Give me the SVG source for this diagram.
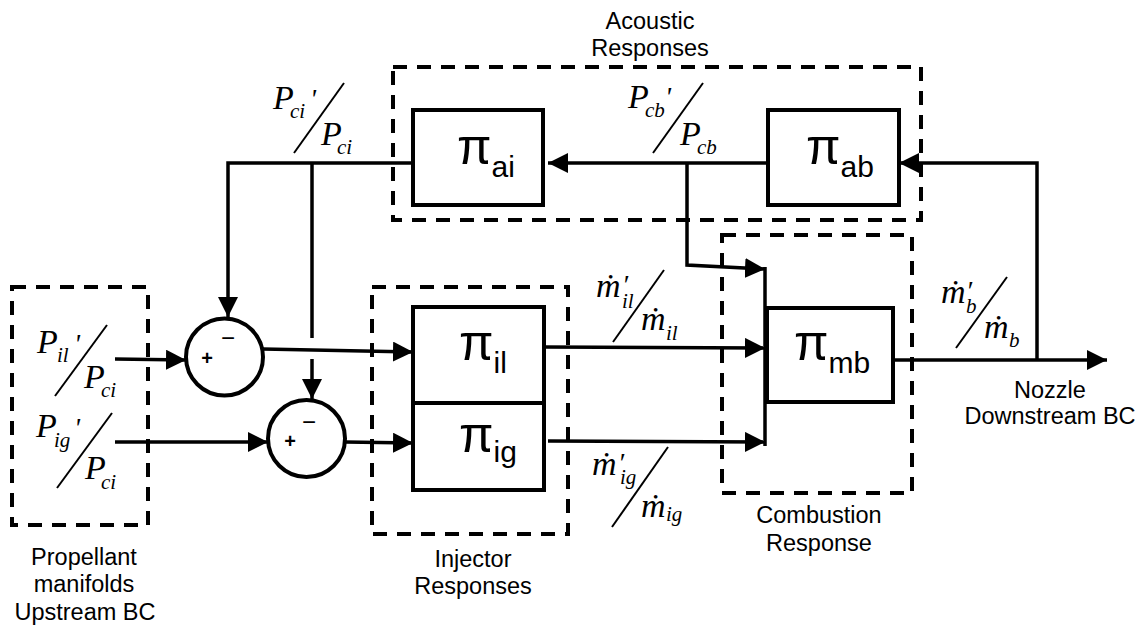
<svg xmlns="http://www.w3.org/2000/svg" width="1139" height="627" viewBox="0 0 1139 627">
<defs>
<style>
.dash{fill:none;stroke:#000;stroke-width:4;stroke-dasharray:14 10}
.blk{fill:#fff;stroke:#000;stroke-width:4}
.ln{fill:none;stroke:#000;stroke-width:3.5}
.sl{stroke:#000;stroke-width:2}
.lbl{font-family:"Liberation Sans",Arial,sans-serif;font-size:23.5px;fill:#000;text-anchor:middle}
.pi{font-family:"Liberation Sans",Arial,sans-serif;font-size:50px;fill:#000}
.sub{font-size:30px}
.m{font-family:"Liberation Serif","DejaVu Serif",serif;font-style:italic;fill:#000}
.big{font-size:34px}
.sm{font-size:21px}
.pr{font-size:28px}
.sg{font-family:"Liberation Sans",Arial,sans-serif;fill:#000;text-anchor:middle}
</style>
<marker id="ah" viewBox="0 0 20 20" refX="20" refY="10" markerWidth="20" markerHeight="20" markerUnits="userSpaceOnUse" orient="auto">
<path d="M0,0 L20,10 L0,20 z" fill="#000"/>
</marker>
</defs>
<rect width="1139" height="627" fill="#fff"/>

<g id="connectors">
<path class="ln" d="M413,163 H228 V317" marker-end="url(#ah)"/>
<path class="ln" d="M312,163 V338"/>
<path class="ln" d="M312,359 V399" marker-end="url(#ah)"/>
<path class="ln" d="M115,359 L186,360" marker-end="url(#ah)"/>
<path class="ln" d="M115,442 H268" marker-end="url(#ah)"/>
<path class="ln" d="M263,349 L413,352" marker-end="url(#ah)"/>
<path class="ln" d="M345,442 L413,443" marker-end="url(#ah)"/>
<path class="ln" d="M544,347 L765,348" marker-end="url(#ah)"/>
<path class="ln" d="M548,441 L765,442" marker-end="url(#ah)"/>
<path class="ln" d="M687,163 V265 L765,269" marker-end="url(#ah)"/>
<path class="ln" d="M893,360 H1107" marker-end="url(#ah)"/>
<path class="ln" d="M1037,360 V163 H899" marker-end="url(#ah)"/>
<path class="ln" d="M768,163 H548" marker-end="url(#ah)"/>
<path class="ln" d="M765,267 V446"/>
</g>

<g id="upstream">
<rect class="dash" x="12" y="287" width="136" height="238"/>
<text class="m"><tspan class="big" x="37" y="353">P</tspan><tspan class="sm" x="57" y="362">il</tspan><tspan class="pr" x="74" y="353">'</tspan></text>
<line class="sl" x1="107" y1="325" x2="55" y2="396"/>
<text class="m"><tspan class="big" x="84" y="388">P</tspan><tspan class="sm" x="101" y="397">ci</tspan></text>
<text class="m"><tspan class="big" x="36" y="437">P</tspan><tspan class="sm" x="54" y="447">ig</tspan><tspan class="pr" x="74" y="437">'</tspan></text>
<line class="sl" x1="112" y1="413" x2="57" y2="488"/>
<text class="m"><tspan class="big" x="85" y="479">P</tspan><tspan class="sm" x="101" y="489">ci</tspan></text>
<text class="lbl" x="84" y="565">Propellant</text>
<text class="lbl" x="84" y="592">manifolds</text>
<text class="lbl" x="85" y="620">Upstream BC</text>
</g>

<g id="sum1">
<circle cx="224.5" cy="357" r="38.5" fill="#fff" stroke="#000" stroke-width="4"/>
<text class="sg" font-size="20" font-weight="bold" x="207" y="365">+</text>
<text class="sg" font-size="24" x="228" y="346">−</text>
</g>

<g id="sum2">
<circle cx="306.5" cy="438.5" r="38.5" fill="#fff" stroke="#000" stroke-width="4"/>
<text class="sg" font-size="20" font-weight="bold" x="290" y="448">+</text>
<text class="sg" font-size="24" x="309" y="430">−</text>
</g>

<g id="pci-label">
<text class="m"><tspan class="big" x="273" y="109">P</tspan><tspan class="sm" x="290" y="118">ci</tspan><tspan class="pr" x="310" y="108">'</tspan></text>
<line class="sl" x1="344" y1="83" x2="294" y2="153"/>
<text class="m"><tspan class="big" x="321" y="145">P</tspan><tspan class="sm" x="337" y="154">ci</tspan></text>
</g>

<g id="acoustic">
<rect class="dash" x="393" y="67" width="528" height="153"/>
<text class="lbl" x="650" y="29">Acoustic</text>
<text class="lbl" x="650" y="56">Responses</text>
</g>

<g id="pi-ai">
<rect class="blk" x="413" y="110" width="130" height="95"/>
<text class="pi" x="457" y="164">π<tspan class="sub" dy="13">ai</tspan></text>
</g>

<g id="pcb-label">
<text class="m"><tspan class="big" x="628" y="108">P</tspan><tspan class="sm" x="645" y="117">cb</tspan><tspan class="pr" x="665" y="106">'</tspan></text>
<line class="sl" x1="703" y1="83" x2="653" y2="153"/>
<text class="m"><tspan class="big" x="680" y="145">P</tspan><tspan class="sm" x="697" y="154">cb</tspan></text>
</g>

<g id="pi-ab">
<rect class="blk" x="768" y="110" width="131" height="95"/>
<text class="pi" x="806" y="164">π<tspan class="sub" dy="13">ab</tspan></text>
</g>

<g id="injector">
<rect class="dash" x="372" y="287" width="196" height="247"/>
<text class="lbl" x="473" y="567">Injector</text>
<text class="lbl" x="473" y="594">Responses</text>
</g>

<g id="pi-il">
<rect class="blk" x="413" y="307" width="131" height="96"/>
<text class="pi" x="459" y="360">π<tspan class="sub" dy="13">il</tspan></text>
</g>

<g id="pi-ig">
<rect class="blk" x="413" y="403" width="131" height="87"/>
<text class="pi" x="459" y="452">π<tspan class="sub" dy="10">ig</tspan></text>
</g>

<g id="mil-label">
<text class="m"><tspan class="big" x="596" y="297">ṁ</tspan><tspan class="pr" x="622" y="294">′</tspan><tspan class="sm" x="622" y="308">il</tspan></text>
<line class="sl" x1="664" y1="270" x2="613" y2="342"/>
<text class="m"><tspan class="big" x="641" y="330">ṁ</tspan><tspan class="sm" x="666" y="340">il</tspan></text>
</g>

<g id="mig-label">
<text class="m"><tspan class="big" x="592" y="475">ṁ</tspan><tspan class="pr" x="618" y="472">′</tspan><tspan class="sm" x="620" y="484">ig</tspan></text>
<line class="sl" x1="668" y1="447" x2="612" y2="527"/>
<text class="m"><tspan class="big" x="641" y="517">ṁ</tspan><tspan class="sm" x="666" y="521">ig</tspan></text>
</g>

<g id="combustion">
<rect class="dash" x="722" y="235" width="190" height="258"/>
<text class="lbl" x="819" y="523">Combustion</text>
<text class="lbl" x="819" y="551">Response</text>
</g>

<g id="pi-mb">
<rect class="blk" x="767" y="308" width="126" height="94"/>
<text class="pi" x="794" y="360">π<tspan class="sub" dy="13">mb</tspan></text>
</g>

<g id="mb-label">
<text class="m"><tspan class="big" x="941" y="303">ṁ</tspan><tspan class="pr" x="966" y="300">′</tspan><tspan class="sm" x="966" y="313">b</tspan></text>
<line class="sl" x1="1007" y1="277" x2="956" y2="348"/>
<text class="m"><tspan class="big" x="984" y="338">ṁ</tspan><tspan class="sm" x="1009" y="347">b</tspan></text>
</g>

<g id="nozzle">
<text class="lbl" x="1050" y="398">Nozzle</text>
<text class="lbl" x="1050" y="424">Downstream BC</text>
</g>
</svg>
